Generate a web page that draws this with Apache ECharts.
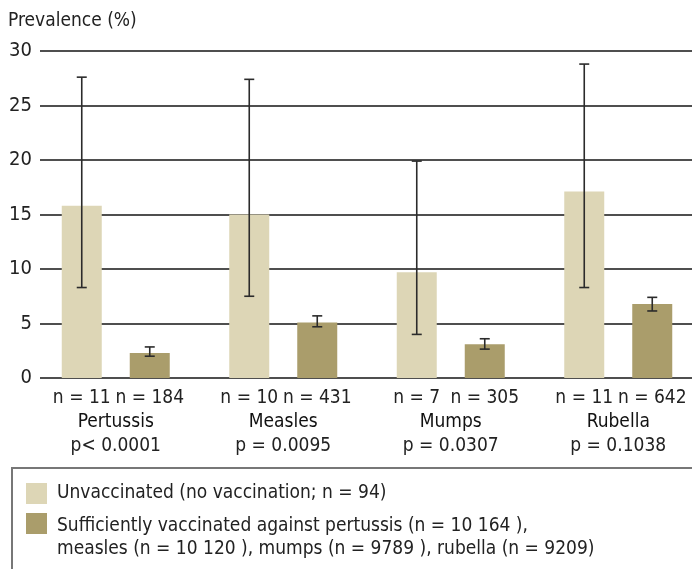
<!DOCTYPE html>
<html>
<head>
<meta charset="utf-8">
<script src="https://cdn.jsdelivr.net/npm/echarts@6/dist/echarts.min.js"></script>
<style>
  html, body { margin: 0; padding: 0; background: #fff; overflow: hidden; }
  /* plot runs a little past the right edge, like the original figure crop */
  #chart { width: 702px; height: 569px; }
</style>
</head>
<body>
<div id="chart"></div>
<script>
var diseases = ["Pertussis", "Measles", "Mumps", "Rubella"];
var pValues = ["p< 0.0001", "p = 0.0095", "p = 0.0307", "p = 0.1038"];
var nUnvacc = ["n = 11", "n = 10", "n = 7", "n = 11"];
var nVacc = ["n = 184", "n = 431", "n = 305", "n = 642"];
var unvacc = [15.8, 15.0, 9.7, 17.1];
var unvaccLow = [8.3, 7.5, 4.0, 8.3];
var unvaccHigh = [27.6, 27.4, 19.9, 28.8];
var vacc = [2.3, 5.1, 3.1, 6.8];
var vaccLow = [2.0, 4.7, 2.65, 6.15];
var vaccHigh = [2.85, 5.7, 3.6, 7.4];
var yTicks = [0, 5, 10, 15, 20, 25, 30];

var nameUnvacc = "Unvaccinated (no vaccination; n = 94)";
var nameVacc = "Sufficiently vaccinated against pertussis (n = 10 164 ),\nmeasles (n = 10 120 ), mumps (n = 9789 ), rubella (n = 9209)";

var FONT = "'Liberation Sans Narrow', 'DejaVu Sans Condensed', sans-serif";
var barW = 40, gapPx = 28;
var half = (barW + gapPx) / 2; // offset of each bar from category centre

function errorData(low, high) {
    return low.map(function (v, i) { return [i, v, high[i]]; });
}

function errorSeries(low, high, offset) {
    return {
        type: "custom",
        xAxisIndex: 0,
        yAxisIndex: 0,
        z: 5,
        silent: true,
        encode: { x: 0, y: [1, 2] },
        data: errorData(low, high),
        renderItem: function (params, api) {
            var i = api.value(0);
            var lo = api.coord([i, api.value(1)]);
            var hi = api.coord([i, api.value(2)]);
            var x = lo[0] + offset;
            var st = { stroke: "#2b2b2b", lineWidth: 1.6 };
            return {
                type: "group",
                children: [
                    { type: "line", shape: { x1: x, y1: lo[1], x2: x, y2: hi[1] }, style: st },
                    { type: "line", shape: { x1: x - 5, y1: hi[1], x2: x + 5, y2: hi[1] }, style: st },
                    { type: "line", shape: { x1: x - 5, y1: lo[1], x2: x + 5, y2: lo[1] }, style: st }
                ]
            };
        }
    };
}

var legendText = { fontFamily: FONT, fontSize: 19, lineHeight: 23, color: "#222", padding: [0, 0, 0, 5] };

var chart = echarts.init(document.getElementById("chart"));
chart.setOption({
    animation: false,
    backgroundColor: "#fff",
    title: {
        text: "Prevalence (%)",
        left: 8,
        top: 12,
        padding: 0,
        textStyle: { fontFamily: FONT, fontSize: 19, fontWeight: "normal", color: "#222" }
    },
    grid: [
        { left: 32, right: 0, top: 51, height: 327 },
        { left: 40, right: 0, top: 51, height: 327 }
    ],
    xAxis: [
        {
            type: "category",
            gridIndex: 0,
            data: diseases,
            axisLine: { show: false },
            axisTick: { show: false },
            axisLabel: {
                interval: 0,
                margin: 8,
                color: "#222",
                fontFamily: FONT,
                formatter: function (value, idx) {
                    return "{n|" + nUnvacc[idx] + "}{n|" + nVacc[idx] + "}\n{d|" + value + "}\n{p|" + pValues[idx] + "}";
                },
                rich: {
                    n: { width: barW + gapPx, align: "center", fontSize: 19, lineHeight: 24, fontFamily: FONT, color: "#222" },
                    d: { fontSize: 19, lineHeight: 24, fontFamily: FONT, color: "#111" },
                    p: { fontSize: 19, lineHeight: 24, fontFamily: FONT, color: "#222" }
                }
            }
        },
        { type: "value", gridIndex: 1, show: false }
    ],
    yAxis: [
        { type: "value", gridIndex: 0, min: 0, max: 30, show: false },
        {
            type: "value",
            gridIndex: 1,
            min: yTicks[0],
            max: yTicks[yTicks.length - 1],
            interval: 5,
            axisLine: { show: false },
            axisTick: { show: false },
            axisLabel: { margin: 8, fontSize: 20, fontFamily: FONT, color: "#222" },
            splitLine: { lineStyle: { color: "#4f4f4f", width: 2 } }
        }
    ],
    legend: [
        {
            orient: "vertical",
            left: 26,
            top: 482,
            padding: 0,
            selectedMode: false,
            itemWidth: 21,
            itemHeight: 21,
            data: [{ name: nameUnvacc, icon: "rect" }],
            textStyle: legendText
        },
        {
            // tall icon box with the swatch in its top part, so the swatch sits by the first text line
            orient: "vertical",
            left: 26,
            top: 513,
            padding: 0,
            selectedMode: false,
            symbolKeepAspect: false,
            itemWidth: 21,
            itemHeight: 50,
            data: [{ name: nameVacc, icon: "path://M0,0H21V21H0Z M0,50L21,50" }],
            textStyle: legendText
        }
    ],
    graphic: [
        {
            type: "rect",
            silent: true,
            shape: { x: 12, y: 468, width: 700, height: 120 },
            style: { fill: "none", stroke: "#777", lineWidth: 2 }
        }
    ],
    series: [
        {
            name: nameUnvacc,
            type: "bar",
            xAxisIndex: 0,
            yAxisIndex: 0,
            barWidth: barW,
            barGap: (gapPx / barW * 100) + "%",
            itemStyle: { color: "#ddd6b6" },
            data: unvacc
        },
        {
            name: nameVacc,
            type: "bar",
            xAxisIndex: 0,
            yAxisIndex: 0,
            barWidth: barW,
            itemStyle: { color: "#aa9d6b" },
            data: vacc
        },
        errorSeries(unvaccLow, unvaccHigh, -half),
        errorSeries(vaccLow, vaccHigh, half)
    ]
});
</script>
</body>
</html>
